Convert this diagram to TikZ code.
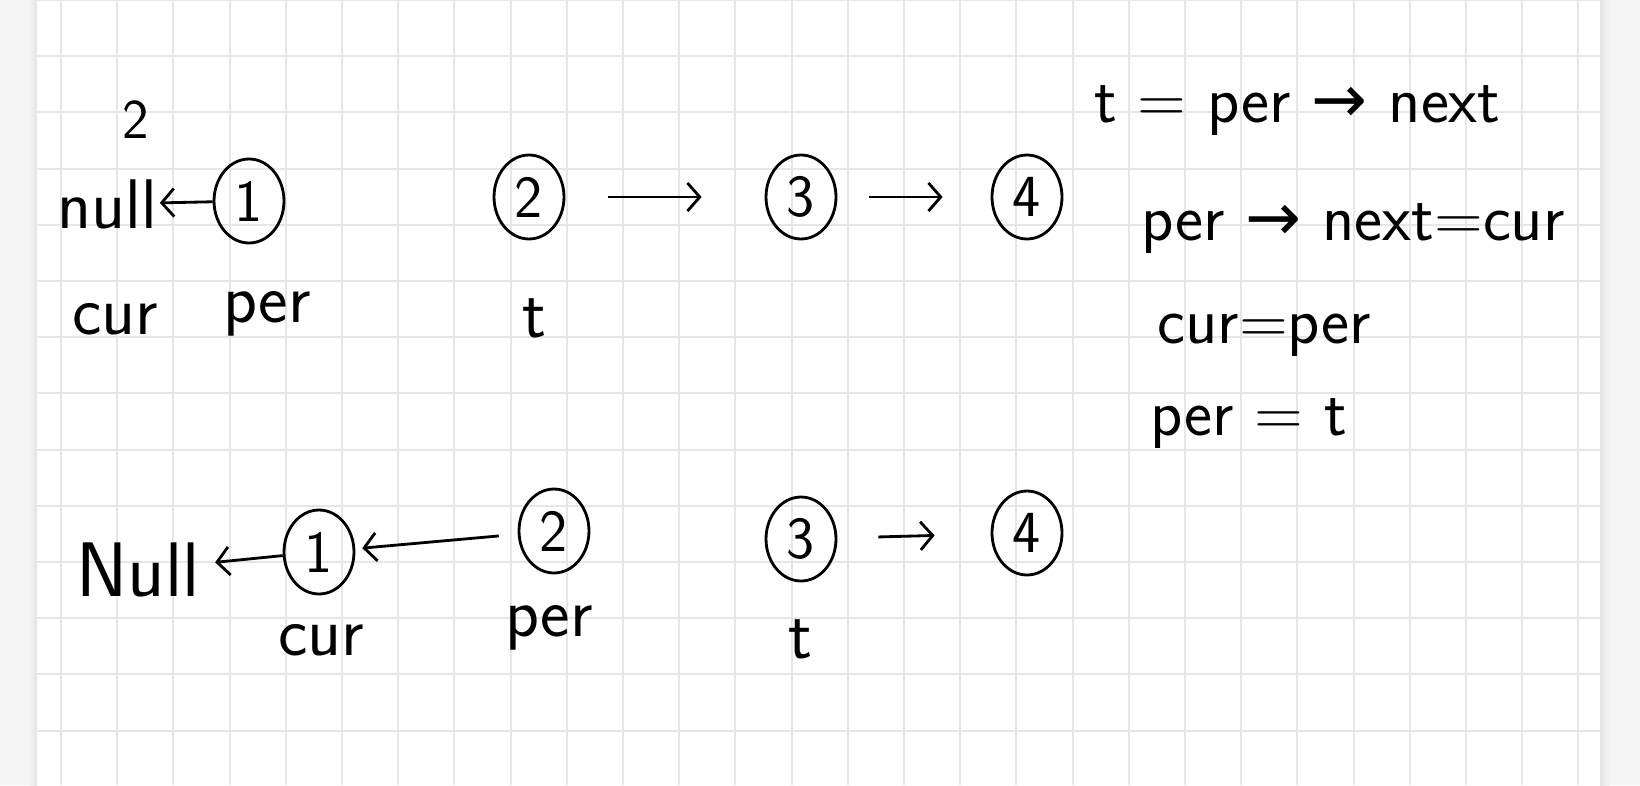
\documentclass[tikz,border=0pt]{standalone}
\usepackage{amsmath}
\usepackage{fontspec}
\usepackage{tikz}
\usetikzlibrary{arrows.meta, positioning, shapes.geometric}

\newfontfamily\arrowfont{DejaVu Sans}
\definecolor{margin}{HTML}{F5F5F5}
\definecolor{gridc}{HTML}{E6E6E6}

\begin{document}
\begin{tikzpicture}[x=0.02cm, y=-0.02cm, >={Straight Barb[length=7pt,width=16pt]}, line width=1.6pt]
  \tikzset{
    gridline/.style={
      draw=gridc,
      line width=1.1pt},
    blank/.style={
      font=\sffamily\fontsize{40}{48}\selectfont,
      inner sep=1pt,
      text centered},
    circ/.style={
      ellipse,
      draw=black,
      inner sep=0pt,
      minimum width=1.4cm,
      minimum height=1.68cm,
      font=\sffamily\fontsize{34}{40}\selectfont,
      text centered},
    note/.style={
      anchor=base west,
      inner sep=0pt,
      font=\sffamily\fontsize{38}{44}\selectfont}}

  % paper and grid
  \useasboundingbox (0,0) rectangle (1640,785);
  \fill[margin] (0,0) rectangle (1640,785);
  \shade[left color=margin, right color=gray!22] (29,0) rectangle (37,785);
  \shade[left color=gray!22, right color=margin] (1600,0) rectangle (1610,785);
  \fill[white] (37,0) rectangle (1600,785);
  \foreach \k in {0,...,27}
    \draw[gridline] ({61+56.2*\k},0) -- ({61+56.2*\k},785);
  \foreach \k in {0,...,13}
    \draw[gridline] (37,{56.2*\k}) -- (1600,{56.2*\k});

  % first step
  \node[blank, font=\sffamily\fontsize{32}{38}\selectfont] (step) at (136,120) {2};
  \node[blank] (null) at (107,204) {null};
  \node[circ] (a1) at (249,201) {1};
  \node[circ] (a2) at (529,197) {2};
  \node[circ] (a3) at (801,197) {3};
  \node[circ] (a4) at (1027,197) {4};
  \node[blank] (cur1) at (115,319) {cur};
  \node[blank] (per1) at (267,314) {per};
  \node[blank] (t1) at (534,318) {t};

  \path[->] (a1) edge (null);
  \path[->] (a2) edge[shorten <=0.86cm, shorten >=1.26cm] (a3);
  \path[->] (a3) edge[shorten <=0.64cm, shorten >=0.96cm] (a4);

  % second step
  \node[blank, font=\sffamily\fontsize{44}{52}\selectfont] (Null) at (138,570) {Null};
  \node[circ] (b1) at (319,552) {1};
  \node[circ] (b2) at (554,531) {2};
  \node[circ] (b3) at (801,539) {3};
  \node[circ] (b4) at (1027,533) {4};
  \node[blank] (cur2) at (321,640) {cur};
  \node[blank] (per2) at (549,628) {per};
  \node[blank] (t2) at (800,639) {t};

  \path[->] (b1) edge[shorten >=0.25cm] (Null);
  \path[->] (b2) edge[shorten <=0.38cm, shorten >=0.14cm] (b1);
  \path[->] (b3) edge[shorten <=0.82cm, shorten >=1.12cm] (b4);

  % loop body
  \node[note] (line1) at (1093,122) {t = per {\arrowfont →} next};
  \node[note] (line2) at (1140,240) {per {\arrowfont →} next=cur};
  \node[note] (line3) at (1156,343) {cur=per};
  \node[note] (line4) at (1149,435) {per = t};

\end{tikzpicture}
\end{document}
